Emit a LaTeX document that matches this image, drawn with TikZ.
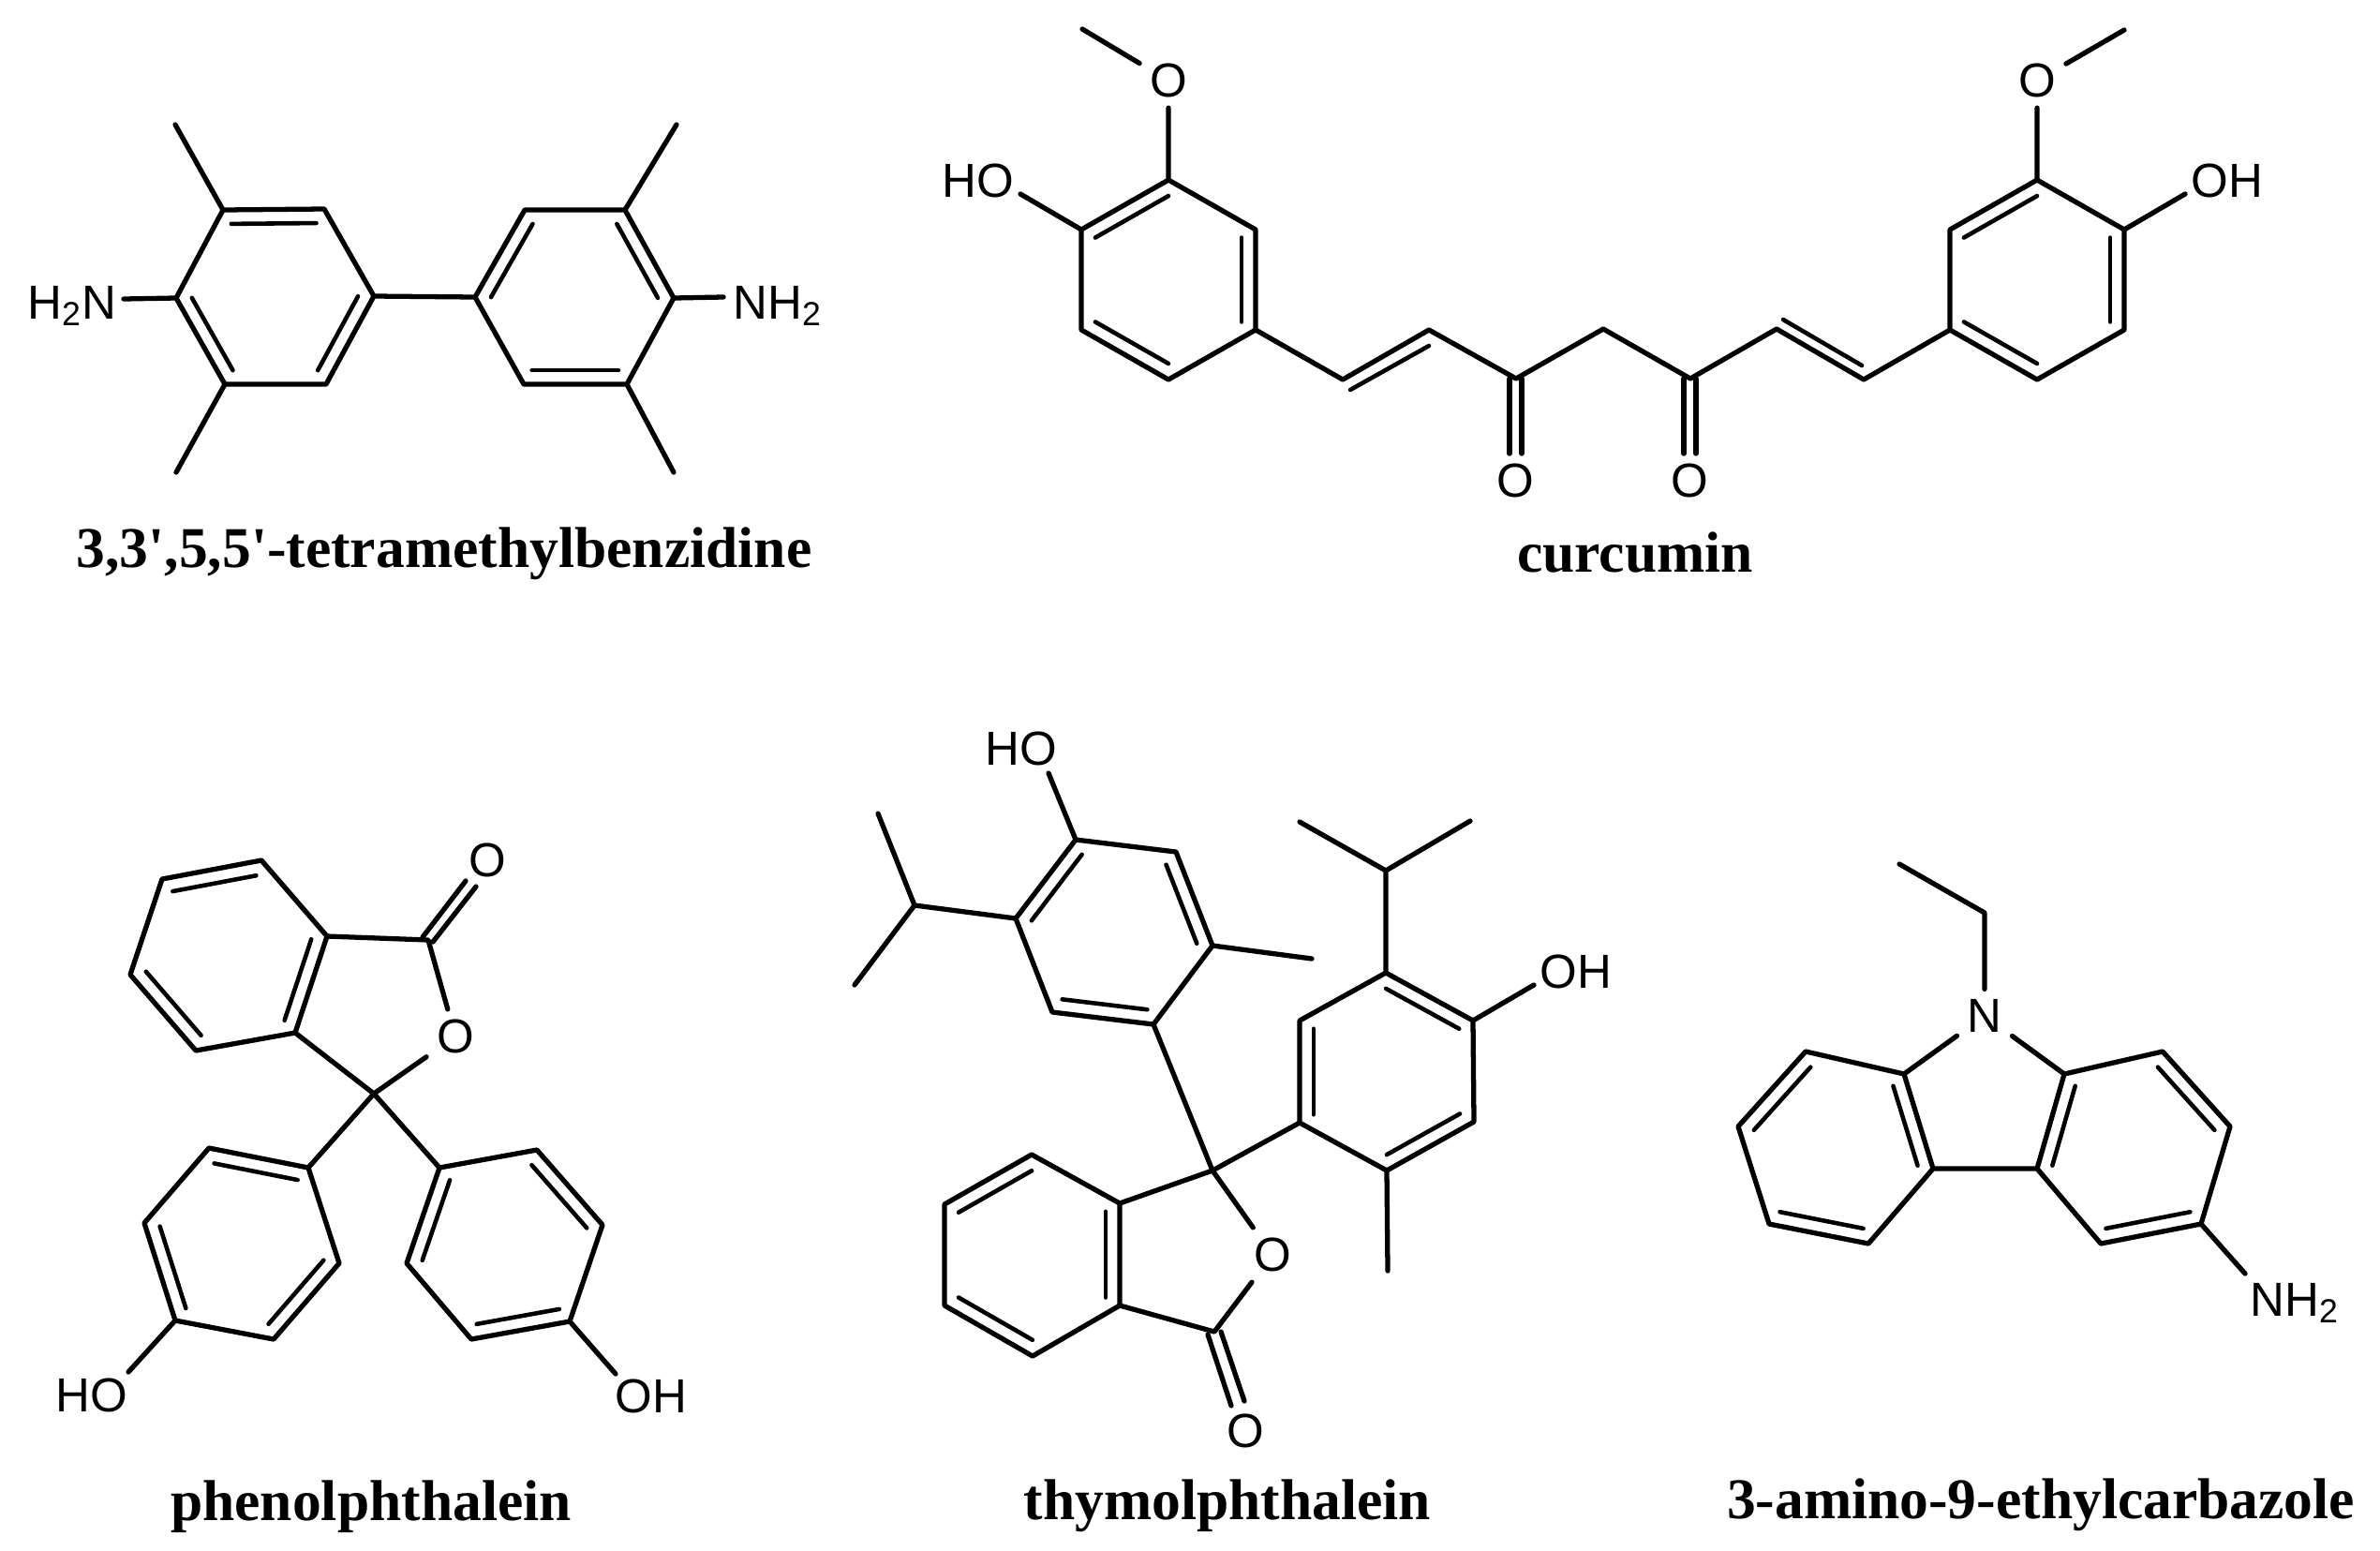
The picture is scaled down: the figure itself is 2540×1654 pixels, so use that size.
\documentclass[tikz,border=0pt]{standalone}
\usepackage{fontspec}
\setmainfont{Liberation Sans}
\newfontfamily\capfont{Liberation Serif}
\usetikzlibrary{calc}
\tikzset{
atomlabel/.style={font=\fontsize{14.5}{16}\selectfont, inner sep=2.4pt},
caplabel/.style={font=\capfont\bfseries\fontsize{17.5}{20}\selectfont, inner sep=0pt, anchor=base},
innerbond/.style={line width=1.3pt}
}
\newcommand{\innerbonds}[3]{\coordinate (rc) at ($(#1)!.5!(#2)$);
\foreach \p/\q in {#3}{\draw[innerbond] ($(\p)!.16!(rc)$)--($(\q)!.16!(rc)$);}}
\begin{document}
\begin{tikzpicture}[x=0.01cm, y=-0.01cm, line width=1.5pt, line join=round, line cap=round]
\useasboundingbox (0,0) rectangle (2540,1654);
% tetramethylbenzidine
\path (238,224)coordinate(t1) (346,223)coordinate(t2) (399,316)coordinate(t3)
(348,410)coordinate(t4) (240,410)coordinate(t5) (188,318)coordinate(t6)
(507,317)coordinate(u1) (560,224)coordinate(u2) (667,224)coordinate(u3)
(719,318)coordinate(u4) (669,410)coordinate(u5) (559,410)coordinate(u6)
(187,133)coordinate(tm1) (188,504)coordinate(tm2) (722,133)coordinate(um1) (719,504)coordinate(um2)
(132,319)coordinate(tn) (772,317)coordinate(un);
\draw (t1)--(t2)--(t3)--(t4)--(t5)--(t6)--cycle (u1)--(u2)--(u3)--(u4)--(u5)--(u6)--cycle (t3)--(u1);
\draw (t1)--(tm1) (t5)--(tm2) (u3)--(um1) (u5)--(um2) (t6)--(tn) (u4)--(un);
\innerbonds{t1}{t4}{t1/t2,t3/t4,t5/t6}
\innerbonds{u1}{u4}{u1/u2,u3/u4,u5/u6}
\node[atomlabel, anchor=base] (tnh) at (77,340) {H\textsubscript{2}N};
\node[atomlabel, anchor=base] (unh) at (830,340) {NH\textsubscript{2}};
\node[caplabel] (tcap) at (474,605) {3,3',5,5'-tetramethylbenzidine};
% curcumin
\path (1247,192)coordinate(a1) (1340,245)coordinate(a2) (1340,352)coordinate(a3)
(1247,405)coordinate(a4) (1154,352)coordinate(a5) (1154,245)coordinate(a6)
(2174,192)coordinate(b1) (2267,245)coordinate(b2) (2267,352)coordinate(b3)
(2174,405)coordinate(b4) (2081,352)coordinate(b5) (2081,245)coordinate(b6)
(1433,405)coordinate(c1) (1525,352)coordinate(c2) (1618,404)coordinate(c3) (1711,351)coordinate(c4)
(1804,404)coordinate(c5) (1896,351)coordinate(c6) (1989,405)coordinate(c7)
(1155,31)coordinate(am) (2267,32)coordinate(bm) (1089,207)coordinate(ah) (2332,207)coordinate(bh);
\node[atomlabel] (ao) at (1247,86) {O};
\node[atomlabel] (bo) at (2174,86) {O};
\node[atomlabel] (co) at (1617,513) {O};
\node[atomlabel] (do) at (1803,513) {O};
\node[atomlabel] (aho) at (1044,193) {HO};
\node[atomlabel] (boh) at (2377,193) {OH};
\draw (a1)--(a2)--(a3)--(a4)--(a5)--(a6)--cycle (b1)--(b2)--(b3)--(b4)--(b5)--(b6)--cycle;
\draw (a3)--(c1)--(c2)--(c3)--(c4)--(c5)--(c6)--(c7)--(b5);
\draw (a1)--(ao)--(am) (b1)--(bo)--(bm) (a6)--(ah) (b2)--(bh);
\innerbonds{a1}{a4}{a1/a6,a2/a3,a4/a5}
\innerbonds{b1}{b4}{b1/b6,b2/b3,b4/b5}
\draw[innerbond] (1441,416)--(1525,369) (1903,341)--(1987,390);
\draw (1611,404)--(1611,484) (1624,404)--(1624,484) (1797,404)--(1797,484) (1810,404)--(1810,484);
\node[caplabel] (ccap) at (1745,610) {curcumin};
% phenolphthalein
\path (279,918)coordinate(p1) (173,938)coordinate(p2) (139,1040)coordinate(p3)
(209,1121)coordinate(p4) (315,1102)coordinate(p5) (349,999)coordinate(p6)
(457,1003)coordinate(pc) (399,1167)coordinate(ps)
(329,1246)coordinate(q1) (223,1225)coordinate(q2) (154,1305)coordinate(q3)
(187,1409)coordinate(q4) (292,1429)coordinate(q5) (362,1348)coordinate(q6)
(469,1246)coordinate(r1) (573,1227)coordinate(r2) (643,1307)coordinate(r3)
(608,1410)coordinate(r4) (503,1429)coordinate(r5) (434,1348)coordinate(r6)
(137,1464)coordinate(qh) (657,1466)coordinate(rh);
\node[atomlabel] (po) at (486,1106) {O};
\node[atomlabel] (pk) at (520,918) {O};
\node[atomlabel] (qho) at (98,1489) {HO};
\node[atomlabel] (roh) at (695,1490) {OH};
\draw (p1)--(p2)--(p3)--(p4)--(p5)--(p6)--cycle (q1)--(q2)--(q3)--(q4)--(q5)--(q6)--cycle
(r1)--(r2)--(r3)--(r4)--(r5)--(r6)--cycle;
\draw (p6)--(pc)--(po)--(ps)--(p5) (ps)--(q1) (ps)--(r1) (q4)--(qh) (r4)--(rh);
\draw (451,1000)--(497,940) (462,1005)--(508,946);
\innerbonds{p1}{p4}{p1/p2,p3/p4,p5/p6}
\innerbonds{q1}{q4}{q1/q2,q3/q4,q5/q6}
\innerbonds{r1}{r4}{r1/r6,r2/r3,r4/r5}
\node[caplabel] (pcap) at (396,1622) {phenolphthalein};
% thymolphthalein
\path (1148,896)coordinate(d1) (1255,909)coordinate(d2) (1294,1009)coordinate(d3)
(1231,1093)coordinate(d4) (1123,1080)coordinate(d5) (1084,980)coordinate(d6)
(1479,1038)coordinate(e1) (1572,1089)coordinate(e2) (1573,1197)coordinate(e3)
(1480,1249)coordinate(e4) (1387,1198)coordinate(e5) (1387,1089)coordinate(e6)
(1101,1232)coordinate(f1) (1008,1285)coordinate(f2) (1008,1393)coordinate(f3)
(1102,1447)coordinate(f4) (1195,1393)coordinate(f5) (1195,1284)coordinate(f6)
(1294,1249)coordinate(s) (1296,1421)coordinate(k)
(1119,825)coordinate(dh) (976,966)coordinate(di) (937,868)coordinate(di1) (912,1051)coordinate(di2)
(1400,1023)coordinate(dm) (1479,929)coordinate(ei) (1387,877)coordinate(ei1) (1569,876)coordinate(ei2)
(1637,1051)coordinate(eh) (1481,1356)coordinate(em);
\node[atomlabel] (so) at (1358,1339) {O};
\node[atomlabel] (ko) at (1329,1527) {O};
\node[atomlabel] (dho) at (1090,799) {HO};
\node[atomlabel] (eoh) at (1682,1037) {OH};
\draw (d1)--(d2)--(d3)--(d4)--(d5)--(d6)--cycle (e1)--(e2)--(e3)--(e4)--(e5)--(e6)--cycle
(f1)--(f2)--(f3)--(f4)--(f5)--(f6)--cycle;
\draw (d4)--(s)--(e5) (f6)--(s)--(so)--(k)--(f5) (d1)--(dh) (d3)--(dm) (e2)--(eh) (e4)--(em);
\draw (d6)--(di)--(di1) (di)--(di2) (e1)--(ei)--(ei1) (ei)--(ei2);
\draw (1289,1424)--(1314,1500) (1303,1421)--(1328,1495);
\innerbonds{d1}{d4}{d1/d6,d2/d3,d4/d5}
\innerbonds{e1}{e4}{e1/e2,e3/e4,e5/e6}
\innerbonds{f1}{f4}{f1/f2,f3/f4,f5/f6}
\node[caplabel] (scap) at (1310,1621) {thymolphthalein};
% aminoethylcarbazole
\path (2032,1146)coordinate(g1) (1927,1122)coordinate(g2) (1855,1202)coordinate(g3)
(1888,1306)coordinate(g4) (1994,1327)coordinate(g5) (2063,1247)coordinate(g6)
(2203,1146)coordinate(h1) (2308,1122)coordinate(h2) (2380,1202)coordinate(h3)
(2349,1306)coordinate(h4) (2242,1327)coordinate(h5) (2174,1247)coordinate(h6)
(2118,974)coordinate(n1) (2027,922)coordinate(n2) (2396,1359)coordinate(hn);
\node[atomlabel] (nn) at (2118,1084) {N};
\node[atomlabel, anchor=base] (hnh) at (2449,1404) {NH\textsubscript{2}};
\draw (g1)--(g2)--(g3)--(g4)--(g5)--(g6)--cycle (h1)--(h2)--(h3)--(h4)--(h5)--(h6)--cycle (g6)--(h6);
\draw (g1)--(nn)--(h1) (nn)--(n1)--(n2) (h4)--(hn);
\innerbonds{g1}{g4}{g1/g6,g2/g3,g4/g5}
\innerbonds{h1}{h4}{h1/h6,h2/h3,h4/h5}
\node[caplabel] (ncap) at (2178,1620) {3-amino-9-ethylcarbazole};
\end{tikzpicture}
\end{document}
